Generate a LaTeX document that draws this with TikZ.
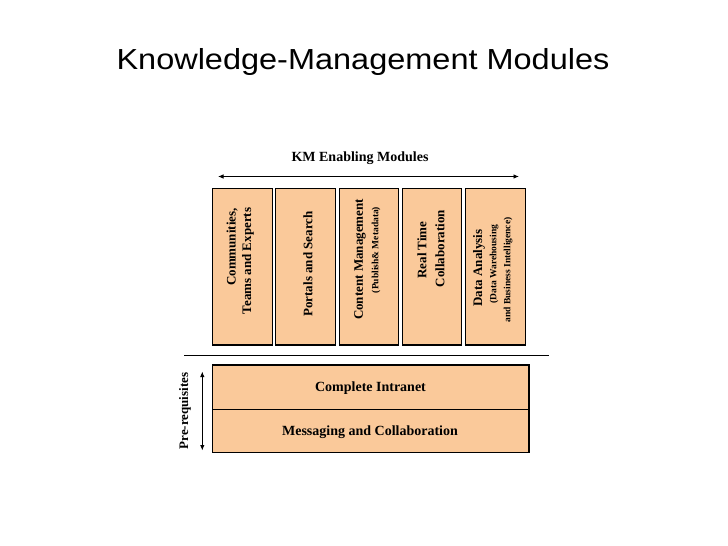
\documentclass[tikz,border=0pt]{standalone}
\usepackage{fontspec}
\setmainfont{Liberation Serif}
\newfontfamily\titlefont{Liberation Sans}
\usetikzlibrary{arrows.meta}
\definecolor{peach}{RGB}{250,201,154}
\tikzset{
  modbox/.style={draw=black, line width=1.1pt, fill=peach, minimum width=59.5pt, minimum height=156.5pt, inner sep=0pt},
  basebox/.style={draw=black, line width=1.1pt, fill=peach, minimum width=316.5pt, inner sep=0pt},
  vmain/.style={rotate=90, inner sep=0pt, font=\fontsize{13}{15}\selectfont\bfseries},
  vsmall/.style={rotate=90, inner sep=0pt, font=\fontsize{9.5}{11}\selectfont\bfseries},
  hmain/.style={inner sep=0pt, font=\fontsize{14}{16}\selectfont\bfseries},
  dblarrow/.style={line width=0.9pt, {Latex[length=5.5pt,width=4.5pt]}-{Latex[length=5.5pt,width=4.5pt]}},
}
\begin{document}
\begin{tikzpicture}[x=1pt,y=-1pt]
\useasboundingbox[fill=white] (0,0) rectangle (728,546);
% title
\node[inner sep=0pt, font=\titlefont\fontsize{29}{32}\selectfont, xscale=1.12] (title) at (363,62) {Knowledge-Management Modules};
% KM enabling modules label and arrow
\node[hmain] (kmlabel) at (360,158) {KM Enabling Modules};
\coordinate (kmL) at (218,176.5);
\coordinate (kmR) at (519,176.5);
\draw[dblarrow] (kmL) -- (kmR);
% module boxes
\node[modbox] (m1) at (242.5,266.75) {};
\node[modbox] (m2) at (305.5,266.75) {};
\node[modbox] (m3) at (369,266.75) {};
\node[modbox] (m4) at (432,266.75) {};
\node[modbox] (m5) at (495.3,266.75) {};
% module texts
\node[vmain] (t1a) at (232,247) {Communities,};
\node[vmain] (t1b) at (248,261) {Teams and Experts};
\node[vmain] (t2) at (308,264) {Portals and Search};
\node[vmain] (t3a) at (360,259.5) {Content Management};
\node[vsmall] (t3b) at (376,250) {(Publish\& Metadata)};
\node[vmain] (t4a) at (422,250) {Real Time};
\node[vmain] (t4b) at (440,248.5) {Collaboration};
\node[vmain] (t5a) at (479,268) {Data Analysis};
\node[vsmall] (t5b) at (494,264) {(Data Warehousing};
\node[vsmall] (t5c) at (508,270) {and Business Intelligence)};
% separator line
\coordinate (sepL) at (184,355.7);
\coordinate (sepR) at (549,355.7);
\draw[line width=0.9pt] (sepL) -- (sepR);
% base boxes
\node[basebox, minimum height=44.3pt] (b1) at (370.75,387.15) {};
\node[basebox, minimum height=43.4pt] (b2) at (370.75,431) {};
\node[hmain] (b1t) at (370.5,388.3) {Complete Intranet};
\node[hmain] (b2t) at (370,431.7) {Messaging and Collaboration};
% prerequisites
\coordinate (prT) at (202.3,371.5);
\coordinate (prB) at (202.3,450.5);
\draw[dblarrow] (prT) -- (prB);
\node[rotate=90, inner sep=0pt, font=\fontsize{13}{15}\selectfont\bfseries] (prlabel) at (185,411) {Pre-requisites};
\end{tikzpicture}
\end{document}
